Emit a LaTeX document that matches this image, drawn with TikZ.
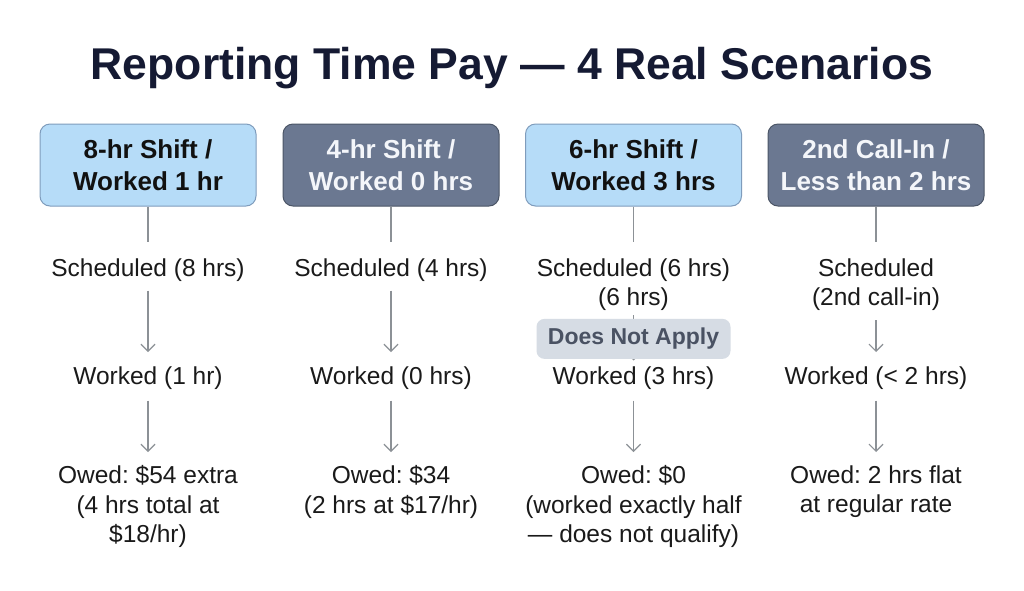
\documentclass[tikz,border=0pt]{standalone}
\usepackage{fontspec}
\setmainfont{Liberation Sans}
\usetikzlibrary{arrows.meta}
\frenchspacing
\definecolor{titlec}{HTML}{151A33}
\definecolor{boxlight}{HTML}{B6DCF8}
\definecolor{boxlightb}{HTML}{7F9CBC}
\definecolor{boxdark}{HTML}{6B7891}
\definecolor{boxdarkb}{HTML}{4B5566}
\definecolor{txtdark}{HTML}{111111}
\definecolor{txtlight}{HTML}{F4F6FA}
\definecolor{txtbody}{HTML}{1A1A1A}
\definecolor{linec}{HTML}{8C9196}
\definecolor{badgef}{HTML}{D6DCE4}
\definecolor{badget}{HTML}{4A5263}
\begin{document}
\begin{tikzpicture}[x=1pt,y=-1pt,
  hdrlight/.style={draw=boxlightb, fill=boxlight, line width=1pt, rounded corners=10pt,
    minimum width=216pt, minimum height=82pt, align=center, inner sep=0pt,
    font=\fontsize{26}{32}\selectfont\bfseries, text=txtdark},
  hdrdark/.style={hdrlight, draw=boxdarkb, fill=boxdark, text=txtlight},
  lbl/.style={align=center, anchor=north, inner sep=0pt,
    font=\fontsize{24.5}{29.5}\selectfont\frenchspacing, text=txtbody},
  conn/.style={draw=linec, line width=1.2pt},
  arr/.style={conn, -{Straight Barb[length=7pt,width=14pt]}},
  badge/.style={fill=badgef, rounded corners=8pt, minimum width=194pt, minimum height=40pt,
    inner sep=0pt, font=\fontsize{23}{28}\selectfont\bfseries, text=badget}]
\useasboundingbox[fill=white] (0,0) rectangle (1024,590);

\node[font=\fontsize{44.5}{50}\selectfont\bfseries, text=titlec] (title) at (512,68)
  {Reporting Time Pay — 4 Real Scenarios};

% headers
\node[hdrlight] (h1) at (148,165) {8-hr Shift /\\Worked 1 hr};
\node[hdrdark]  (h2) at (391,165) {4-hr Shift /\\Worked 0 hrs};
\node[hdrlight] (h3) at (633.5,165) {6-hr Shift /\\Worked 3 hrs};
\node[hdrdark]  (h4) at (876,165) {2nd Call-In /\\Less than 2 hrs};

% column 1
\node[lbl] (s1) at (148,258.5) {Scheduled (8 hrs)};
\node[lbl] (w1) at (148,366.5) {Worked (1 hr)};
\node[lbl] (o1) at (148,465.5) {Owed: \$54 extra\\(4 hrs total at\\\$18/hr)};
% column 2
\node[lbl] (s2) at (391,258.5) {Scheduled (4 hrs)};
\node[lbl] (w2) at (391,366.5) {Worked (0 hrs)};
\node[lbl] (o2) at (391,465.5) {Owed: \$34\\(2 hrs at \$17/hr)};
% column 3
\node[lbl] (s3) at (633.5,258.5) {Scheduled (6 hrs)\\(6 hrs)};
\node[lbl] (w3) at (633.5,366.5) {Worked (3 hrs)};
\node[lbl] (o3) at (633.5,465.5) {Owed: \$0\\(worked exactly half\\— does not qualify)};
% column 4
\node[lbl] (s4) at (876,258.5) {Scheduled\\(2nd call-in)};
\node[lbl] (w4) at (876,366.5) {Worked (< 2 hrs)};
\node[lbl] (o4) at (876,465.5) {Owed: 2 hrs flat\\at regular rate};

% connectors
\foreach \i in {1,2,3,4}{
  \draw[conn, shorten >=16.5pt] (h\i) -- (s\i);
  \draw[arr, shorten <=11pt, shorten >=13.5pt] (w\i) -- (o\i);
}
\draw[arr, shorten <=9pt, shorten >=14.5pt] (s1) -- (w1);
\draw[arr, shorten <=9pt, shorten >=14.5pt] (s2) -- (w2);
\draw[arr, shorten <=9pt, shorten >=14.5pt] (s4) -- (w4);
\draw[arr, shorten <=4pt, shorten >=6pt] (s3) -- node[badge] (b3) {Does Not Apply} (w3);
\end{tikzpicture}
\end{document}
